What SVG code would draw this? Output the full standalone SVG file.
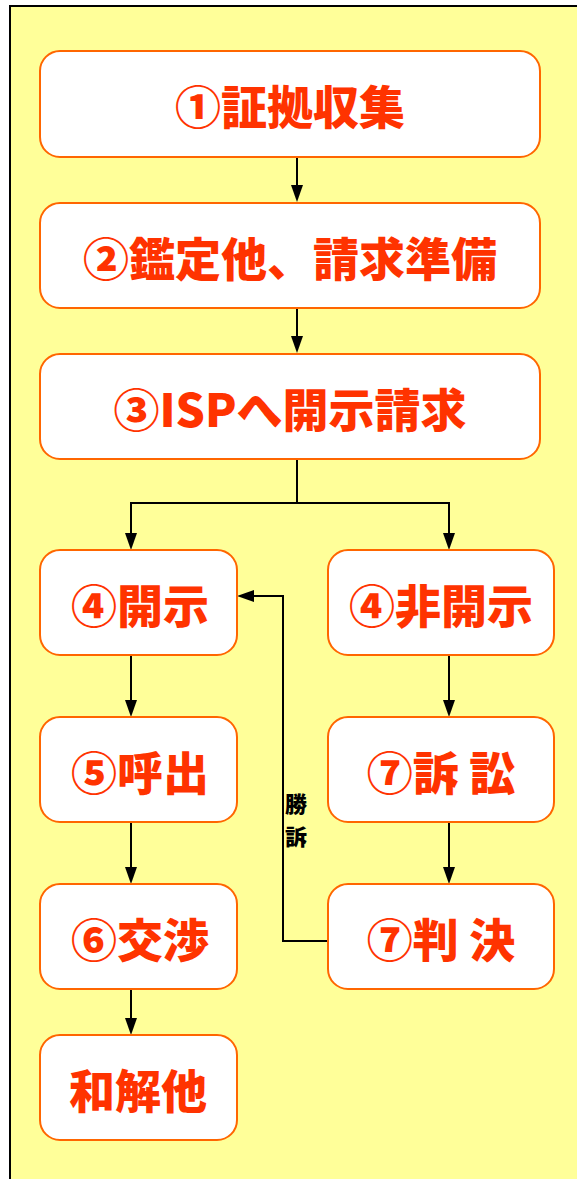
<svg xmlns="http://www.w3.org/2000/svg" width="577" height="1179" viewBox="0 0 577 1179">
<style>
.box{fill:#fff;stroke:#ff6600;stroke-width:2}
.t{font-family:"Noto Sans CJK JP","Noto Sans CJK SC",sans-serif;font-weight:900;font-size:46px;fill:#ff3300;text-anchor:middle;dominant-baseline:central}
.c{fill:none;stroke:#000;stroke-width:2}
.lbl{font-family:"Noto Sans CJK JP",sans-serif;font-weight:900;font-size:22px;fill:#000;text-anchor:middle}
</style>
<rect x="10" y="6" width="580" height="1190" fill="#ffff99" stroke="#000" stroke-width="2"/>
<g id="connectors">
<line class="c" x1="297" y1="157" x2="297" y2="188"/>
<path d="M291,185 L303,185 L297,202 z" fill="#000"/>
<line class="c" x1="297" y1="308" x2="297" y2="340"/>
<path d="M291,336 L303,336 L297,353 z" fill="#000"/>
<polyline class="c" points="297,459 297,503 131,503 131,535"/>
<path d="M125,533 L137,533 L131,550 z" fill="#000"/>
<polyline class="c" points="297,503 449,503 449,535"/>
<path d="M443,533 L455,533 L449,550 z" fill="#000"/>
<line class="c" x1="131" y1="655" x2="131" y2="705"/>
<path d="M125,700 L137,700 L131,717 z" fill="#000"/>
<line class="c" x1="131" y1="822" x2="131" y2="870"/>
<path d="M125,867 L137,867 L131,884 z" fill="#000"/>
<line class="c" x1="131" y1="989" x2="131" y2="1022"/>
<path d="M125,1018 L137,1018 L131,1035 z" fill="#000"/>
<line class="c" x1="449" y1="655" x2="449" y2="705"/>
<path d="M443,700 L455,700 L449,717 z" fill="#000"/>
<line class="c" x1="449" y1="822" x2="449" y2="870"/>
<path d="M443,867 L455,867 L449,884 z" fill="#000"/>
<polyline class="c" points="328,941 283,941 283,596 250,596"/>
<path d="M254,590 L254,602 L237,596 z" fill="#000"/>
<text class="lbl" x="296" y="812">勝</text>
<text class="lbl" x="296" y="845">訴</text>
</g>
<g id="n1"><rect class="box" x="40" y="51" width="500" height="106" rx="20"/><text class="t" x="290" y="104">①証拠収集</text></g>
<g id="n2"><rect class="box" x="40" y="203" width="500" height="105" rx="20"/><text class="t" x="290" y="256">②鑑定他、請求準備</text></g>
<g id="n3"><rect class="box" x="40" y="354" width="500" height="105" rx="20"/><text class="t" x="290" y="407">③ISPへ開示請求</text></g>
<g id="n4a"><rect class="box" x="40" y="550" width="197" height="105" rx="20"/><text class="t" x="140" y="603">④開示</text></g>
<g id="n4b"><rect class="box" x="328" y="550" width="226" height="105" rx="20"/><text class="t" x="441" y="603">④非開示</text></g>
<g id="n5"><rect class="box" x="40" y="717" width="197" height="105" rx="20"/><text class="t" x="140" y="770">⑤呼出</text></g>
<g id="n7a"><rect class="box" x="328" y="717" width="226" height="105" rx="20"/><text class="t" x="441" y="770">⑦訴 訟</text></g>
<g id="n6"><rect class="box" x="40" y="884" width="197" height="105" rx="20"/><text class="t" x="140" y="937">⑥交渉</text></g>
<g id="n7b"><rect class="box" x="328" y="884" width="226" height="105" rx="20"/><text class="t" x="441" y="937">⑦判 決</text></g>
<g id="n8"><rect class="box" x="40" y="1035" width="197" height="105" rx="20"/><text class="t" x="138" y="1088">和解他</text></g>
</svg>
